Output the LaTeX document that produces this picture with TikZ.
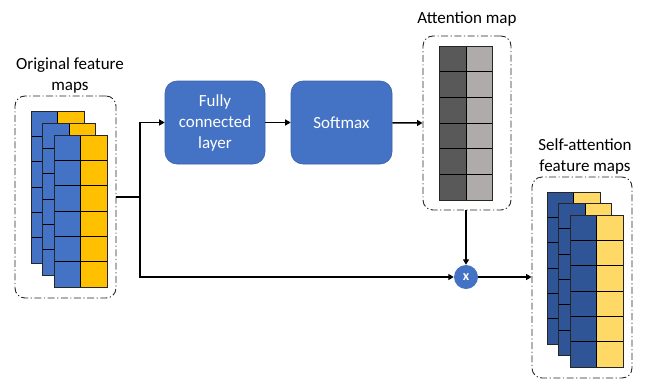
\documentclass[tikz,border=0pt]{standalone}
\usepackage{fontspec}
\setmainfont{Carlito}
\usetikzlibrary{arrows.meta,calc}

\definecolor{boxblue}{HTML}{4472C4}
\definecolor{fmyellow}{HTML}{FFC000}
\definecolor{sadarkblue}{HTML}{2F5597}
\definecolor{salightyellow}{HTML}{FFD966}
\definecolor{attdark}{HTML}{595959}
\definecolor{attlight}{HTML}{AFABAB}
\definecolor{frame}{HTML}{262626}

% one feature-map sheet: #1,#2 = top-left corner, #3,#4 = column colours
\newcommand\fmsheet[4]{%
  \foreach \r in {0,...,5}{%
    \filldraw[cellline, fill=#3] (#1,{#2+\r*152/6}) rectangle ++(26.5,152/6);
    \filldraw[cellline, fill=#4] ({#1+26.5},{#2+\r*152/6}) rectangle ++(26.5,152/6);
  }%
  \draw[sheetline] (#1,#2) rectangle ++(53,152);
}

\begin{document}
\begin{tikzpicture}[x=1pt,y=-1pt,
  every node/.style={font=\fontsize{17}{21}\selectfont},
  cellline/.style={draw=black, line width=0.7pt},
  sheetline/.style={draw=frame, line width=0.8pt},
  groupbox/.style={draw=frame, line width=0.9pt, rounded corners=10pt,
    dash pattern=on 7pt off 2.5pt on 1.2pt off 2.5pt, inner sep=0pt},
  stepbox/.style={fill=boxblue, draw=boxblue!85!black, line width=0.6pt,
    rounded corners=12pt, text=white, align=center, inner sep=0pt},
  title/.style={align=center, text=black},
  flow/.style={line width=1.5pt, -{Triangle[length=5.5pt,width=6pt]}},
  plain/.style={line width=1.5pt}
]
\useasboundingbox (0,0) rectangle (650,380);

% group frames
\node[groupbox, minimum width=101pt, minimum height=202pt] (orig) at (65.5,197) {};
\node[groupbox, minimum width=88pt, minimum height=174pt] (att) at (467,123) {};
\node[groupbox, minimum width=100pt, minimum height=201pt] (selfatt) at (582,277.5) {};

% titles
\node[title] (origtitle) at (70,75) {Original feature\\maps};
\node[title] (atttitle) at (467,19) {Attention map};
\node[title] (satitle) at (585,156) {Self-attention\\feature maps};

% original feature maps
\fmsheet{31}{111}{boxblue}{fmyellow}
\fmsheet{42.5}{123}{boxblue}{fmyellow}
\fmsheet{54}{135}{boxblue}{fmyellow}

% self-attention feature maps
\fmsheet{547}{192}{sadarkblue}{salightyellow}
\fmsheet{558.5}{203.5}{sadarkblue}{salightyellow}
\fmsheet{570}{215}{sadarkblue}{salightyellow}

% attention map
\foreach \r in {0,...,5}{
  \filldraw[cellline, fill=attdark] (439,{46+\r*154/6}) rectangle ++(27,154/6);
  \filldraw[cellline, fill=attlight] (466,{46+\r*154/6}) rectangle ++(26,154/6);
}
\draw[sheetline] (439,46) rectangle (492,200);

% processing steps
\node[stepbox, minimum width=100pt, minimum height=83pt] (fc) at (215,122.5)
  {Fully\\connected\\layer};
\node[stepbox, minimum width=101pt, minimum height=83pt] (soft) at (341.5,122.5)
  {Softmax};
\node[circle, fill=boxblue, minimum size=24pt, inner sep=0pt, text=white,
  font=\fontsize{14}{16}\selectfont\bfseries] (mul) at (466,277) {x};

% connectors
\coordinate (split) at (140,197);
\draw[plain] (orig.east) -- (split);
\draw[flow] (split) |- (fc.west);
\draw[flow] (split) |- (mul.west);
\draw[flow] (fc) -- (soft);
\draw[flow] (soft) -- (att.west);
\draw[flow] (att.south -| mul.north) -- (mul.north);
\draw[flow] (mul.east) -- (selfatt.west |- mul.east);
\end{tikzpicture}
\end{document}
